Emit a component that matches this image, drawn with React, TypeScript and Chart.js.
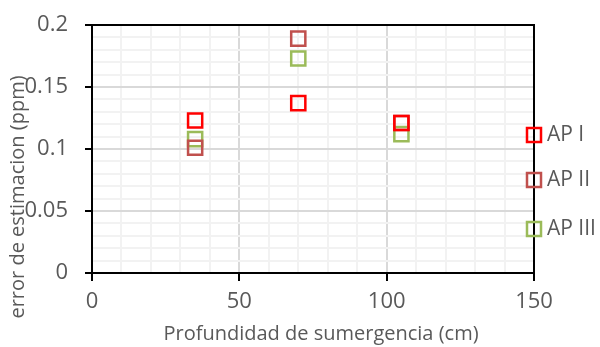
import React, { useEffect, useRef } from "react";
import { Chart, registerables } from "chart.js";

Chart.register(...registerables);

// Depth of submergence (cm)
const depths = [35, 70, 105];
// Estimation error (ppm) per series
const apI = [0.123, 0.137, 0.121];
const apII = [0.101, 0.189, 0.121];
const apIII = [0.108, 0.173, 0.112];

const seriesLabels = ["AP I", "AP II", "AP III"];
const seriesColors = ["#FF0000", "#C0504D", "#9BBB59"];

const xTickLabels = [0, 50, 100, 150];
const yTickLabels = [0, 0.05, 0.1, 0.15, 0.2];

const xTitle = "Profundidad de sumergencia (cm)";
const yTitle = "error de estimacion (ppm)";

const FONT = "'Open Sans', Lato, sans-serif";
const TEXT = "#595959";

const isMajorX = (v: number) => xTickLabels.includes(Math.round(v));
const isMajorY = (v: number) =>
  yTickLabels.some((t) => Math.abs(t - v) < 1e-6);

// Frame, axis titles and a legend placed on the right edge of the plot
const decorations = {
  id: "decorations",
  afterDraw(chart: any) {
    const { ctx, chartArea: a } = chart;
    ctx.save();
    ctx.strokeStyle = "#000";
    ctx.lineWidth = 2;
    ctx.beginPath();
    ctx.moveTo(a.left, a.top);
    ctx.lineTo(a.right, a.top);
    ctx.lineTo(a.right, a.bottom);
    ctx.stroke();

    ctx.fillStyle = TEXT;
    ctx.font = `20px ${FONT}`;
    ctx.textAlign = "center";
    ctx.textBaseline = "middle";
    ctx.fillText(xTitle, 321, 334);

    ctx.save();
    ctx.translate(18, 197);
    ctx.rotate(-Math.PI / 2);
    ctx.fillText(yTitle, 0, 0);
    ctx.restore();

    const rows = [135, 180, 229];
    ctx.font = `21px ${FONT}`;
    ctx.textAlign = "left";
    chart.data.datasets.forEach((ds: any, i: number) => {
      const y = rows[i];
      const s = 14;
      ctx.strokeStyle = ds.borderColor;
      ctx.lineWidth = 2.5;
      ctx.strokeRect(a.right - s / 2, y - s / 2, s, s);
      ctx.fillStyle = TEXT;
      ctx.fillText(ds.label, a.right + 13, y);
    });
    ctx.restore();
  },
};

export default function App() {
  const ref = useRef<HTMLCanvasElement>(null);

  useEffect(() => {
    if (!ref.current) return;
    const series = [apI, apII, apIII];
    const chart = new Chart(ref.current, {
      type: "scatter",
      data: {
        datasets: series.map((vals, i) => ({
          label: seriesLabels[i],
          data: depths.map((d, j) => ({ x: d, y: vals[j] })),
          pointStyle: "rect",
          pointRadius: 10,
          pointHoverRadius: 10,
          borderColor: seriesColors[i],
          backgroundColor: "transparent",
          borderWidth: 2.5,
        })),
      },
      options: {
        responsive: false,
        animation: false,
        events: [],
        layout: { padding: { top: 25, right: 66, left: 0, bottom: 0 } },
        plugins: {
          legend: { display: false },
          tooltip: { enabled: false },
        },
        scales: {
          x: {
            type: "linear",
            min: 0,
            max: 150,
            afterFit: (s: any) => {
              s.height = 74;
            },
            afterBuildTicks: (s: any) => {
              const t = [];
              for (let v = 0; v <= 150; v += 10) t.push({ value: v });
              s.ticks = t;
            },
            ticks: {
              autoSkip: false,
              maxRotation: 0,
              padding: 8,
              color: TEXT,
              font: { family: FONT, size: 22 },
              callback: (v: any) => (isMajorX(Number(v)) ? String(v) : ""),
            },
            grid: {
              color: (c: any) =>
                isMajorX(c.tick.value) ? "#d9d9d9" : "#f2f2f2",
              lineWidth: 2,
              tickLength: 8,
              tickColor: (c: any) =>
                isMajorX(c.tick.value) ? "#000" : "transparent",
              tickWidth: 2,
            },
            border: { color: "#000", width: 2 },
          },
          y: {
            type: "linear",
            min: 0,
            max: 0.2,
            afterFit: (s: any) => {
              s.width = 92;
              s.paddingTop = 0;
              s.paddingBottom = 0;
            },
            afterBuildTicks: (s: any) => {
              const t = [];
              for (let k = 0; k <= 20; k++) t.push({ value: k / 100 });
              s.ticks = t;
            },
            ticks: {
              autoSkip: false,
              padding: 17,
              color: TEXT,
              font: { family: FONT, size: 22 },
              callback: (v: any) =>
                isMajorY(Number(v)) ? String(Math.round(Number(v) * 100) / 100) : "",
            },
            grid: {
              color: (c: any) =>
                isMajorY(c.tick.value) ? "#d9d9d9" : "#f2f2f2",
              lineWidth: 2,
              tickLength: 7,
              tickColor: (c: any) =>
                isMajorY(c.tick.value) ? "#000" : "transparent",
              tickWidth: 2,
            },
            border: { color: "#000", width: 2 },
          },
        },
      },
      plugins: [decorations],
    });
    return () => chart.destroy();
  }, []);

  return (
    <div
      style={{
        position: "fixed",
        left: 0,
        top: 0,
        width: 600,
        height: 347,
        background: "#fff",
      }}
    >
      <canvas ref={ref} width={600} height={347} />
    </div>
  );
}
